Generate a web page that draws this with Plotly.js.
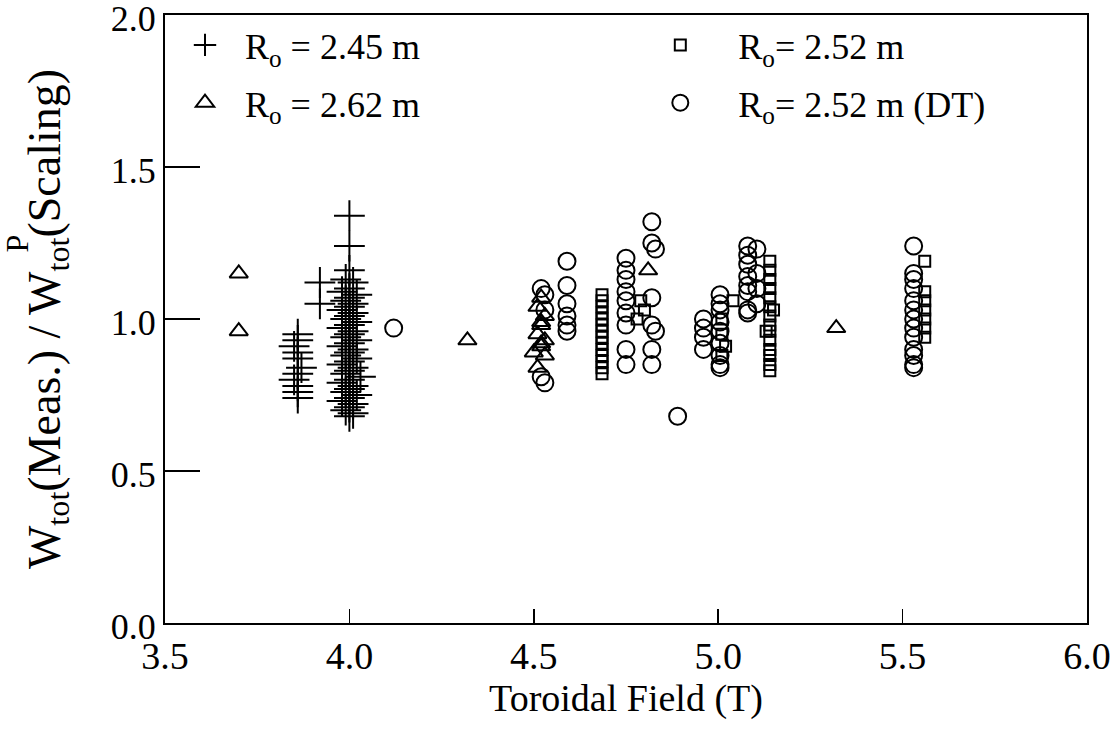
<!DOCTYPE html>
<html>
<head>
<meta charset="utf-8">
<script src="https://cdn.plot.ly/plotly-3.0.1.min.js"></script>
<style>html,body{margin:0;padding:0;background:#fff;}#chart{width:1111px;height:740px;}</style>
</head>
<body>
<div id="chart"></div>
<script>
// R0 = 2.45 m (crosses)
var crossX = [3.92, 3.92,
  3.86, 3.86, 3.85, 3.86, 3.86, 3.87, 3.86, 3.85, 3.86, 3.86, 3.86,
  4.00, 4.00, 4.00,
  3.99, 4.01, 4.00, 3.98, 4.02, 4.00, 3.99, 4.01, 4.00, 3.98, 4.01, 4.00, 3.99, 4.02, 4.00,
  3.98, 4.01, 4.00, 3.99, 4.02, 4.00, 3.98, 4.01, 4.00, 3.99, 4.02, 4.00, 3.98, 4.01, 4.00,
  3.99, 4.03, 4.00, 3.98, 4.01, 4.00, 3.99, 4.02, 4.00, 3.98, 4.01, 4.00, 3.99, 4.01, 4.00];
var crossY = [1.12, 1.05,
  0.95, 0.93, 0.91, 0.89, 0.87, 0.84, 0.82, 0.80, 0.78, 0.76, 0.74,
  1.34, 1.24, 1.16,
  1.13, 1.12, 1.10, 1.09, 1.08, 1.07, 1.06, 1.05, 1.04, 1.03, 1.02, 1.01, 1.00, 0.99, 0.98,
  0.97, 0.96, 0.95, 0.94, 0.93, 0.92, 0.91, 0.90, 0.89, 0.88, 0.87, 0.86, 0.85, 0.84, 0.83,
  0.82, 0.81, 0.80, 0.79, 0.78, 0.77, 0.76, 0.75, 0.74, 0.73, 0.72, 0.71, 0.70, 0.69, 0.68];

// R0 = 2.52 m (squares)
var squareX = [4.685, 4.685, 4.685, 4.685, 4.685, 4.685, 4.685, 4.685, 4.685, 4.685, 4.685, 4.685, 4.685, 4.685,
  4.79, 4.80, 4.78,
  5.04, 5.01, 5.01, 5.02, 5.01,
  5.14, 5.14, 5.14, 5.14, 5.14, 5.14, 5.14, 5.14, 5.14, 5.14, 5.14, 5.14, 5.14, 5.14, 5.15, 5.13,
  5.56, 5.56, 5.56, 5.56, 5.56, 5.56, 5.56];
var squareY = [1.08, 1.06, 1.04, 1.02, 1.00, 0.98, 0.96, 0.94, 0.92, 0.90, 0.88, 0.86, 0.84, 0.82,
  1.06, 1.03, 1.00,
  1.06, 1.00, 0.95, 0.91, 0.88,
  1.19, 1.16, 1.13, 1.10, 1.07, 1.04, 1.01, 0.98, 0.96, 0.93, 0.90, 0.88, 0.85, 0.83, 1.03, 0.96,
  1.19, 1.09, 1.06, 1.03, 1.00, 0.97, 0.94];

// R0 = 2.62 m (triangles)
var triX = [3.70, 3.70, 4.32, 4.52, 4.51, 4.53, 4.52, 4.51, 4.53, 4.52, 4.50, 4.53, 4.51, 4.52, 4.52, 4.81, 5.32];
var triY = [1.15, 0.96, 0.93, 1.07, 1.04, 1.01, 0.98, 0.95, 0.93, 0.91, 0.89, 0.88, 0.84, 0.99, 0.92, 1.16, 0.97];

// R0 = 2.52 m (DT) (circles)
var circX = [4.12,
  4.52, 4.53, 4.53, 4.52, 4.53,
  4.59, 4.59, 4.59, 4.59, 4.59, 4.59,
  4.75, 4.75, 4.75, 4.75, 4.75, 4.75, 4.75, 4.75, 4.75,
  4.82, 4.82, 4.83, 4.82, 4.82, 4.83, 4.82, 4.82,
  4.89,
  4.96, 4.96, 4.96, 4.96,
  5.005, 5.005, 5.005, 5.005, 5.005, 5.005, 5.005, 5.005, 5.005,
  5.08, 5.08, 5.08, 5.08, 5.08, 5.08, 5.08, 5.08,
  5.105, 5.105, 5.105, 5.105,
  5.53, 5.53, 5.53, 5.53, 5.53, 5.53, 5.53, 5.53, 5.53, 5.53, 5.53, 5.53, 5.53];
var circY = [0.97,
  1.10, 1.08, 1.03, 0.81, 0.79,
  1.19, 1.11, 1.05, 1.01, 0.98, 0.96,
  1.20, 1.16, 1.13, 1.09, 1.06, 1.02, 0.98, 0.90, 0.85,
  1.32, 1.25, 1.23, 1.07, 0.98, 0.96, 0.90, 0.85,
  0.68,
  1.00, 0.97, 0.94, 0.90,
  1.08, 1.05, 1.03, 0.99, 0.96, 0.92, 0.88, 0.85, 0.84,
  1.24, 1.21, 1.18, 1.14, 1.11, 1.09, 1.03, 1.02,
  1.23, 1.15, 1.10, 1.05,
  1.24, 1.15, 1.13, 1.10, 1.06, 1.03, 1.00, 0.97, 0.94, 0.90, 0.88, 0.85, 0.84];

var xTicks = [3.5, 4.0, 4.5, 5.0, 5.5, 6.0];
var yTicks = [0.0, 0.5, 1.0, 1.5, 2.0];

var FONT = 'Liberation Serif, Times New Roman, serif';

var traces = [
  {x: crossX, y: crossY, type: 'scatter', mode: 'markers', name: 'R<sub>o</sub> = 2.45 m',
   legend: 'legend', legendgroup: 'a',
   marker: {symbol: 'cross-thin-open', size: 22, color: 'black', line: {color: 'black', width: 2}}},
  {x: triX, y: triY, type: 'scatter', mode: 'markers', name: 'R<sub>o</sub> = 2.62 m',
   legend: 'legend', legendgroup: 'b',
   marker: {symbol: 'triangle-up-open', size: 16, color: 'black', line: {color: 'black', width: 2}}},
  {x: squareX, y: squareY, type: 'scatter', mode: 'markers', name: 'R<sub>o</sub>= 2.52 m',
   legend: 'legend2', legendgroup: 'c',
   marker: {symbol: 'square-open', size: 11, color: 'black', line: {color: 'black', width: 2}}},
  {x: circX, y: circY, type: 'scatter', mode: 'markers', name: 'R<sub>o</sub>= 2.52 m (DT)',
   legend: 'legend2', legendgroup: 'd',
   marker: {symbol: 'circle-open', size: 17, color: 'black', line: {color: 'black', width: 2}}}
];

var legendCommon = {
  font: {family: FONT, size: 36, color: 'black'},
  bgcolor: 'rgba(0,0,0,0)', borderwidth: 0,
  traceorder: 'grouped', tracegroupgap: 8,
  xanchor: 'left', yanchor: 'top', orientation: 'v'
};

var layout = {
  width: 1111, height: 740,
  paper_bgcolor: 'white', plot_bgcolor: 'white',
  margin: {l: 165, r: 24, t: 15, b: 117},
  font: {family: FONT, size: 36, color: 'black'},
  showlegend: true,
  legend: Object.assign({}, legendCommon, {x: 0.0, y: 1.0, itemwidth: 70}),
  legend2: Object.assign({}, legendCommon, {x: 0.496, y: 1.0, itemwidth: 106}),
  xaxis: {
    range: [3.5, 6.0], tickvals: xTicks, tickformat: '.1f',
    ticks: 'inside', ticklen: 14, tickwidth: 1.5, tickcolor: 'black',
    showline: true, mirror: true, linecolor: 'black', linewidth: 2,
    showgrid: false, zeroline: false, ticklabelstandoff: -2,
    tickfont: {family: FONT, size: 38, color: 'black'},
    title: {text: 'Toroidal Field (T)', font: {family: FONT, size: 38, color: 'black'}, standoff: 6}
  },
  yaxis: {
    range: [0, 2.0], tickvals: yTicks, tickformat: '.1f',
    ticks: 'inside', ticklen: 35, tickwidth: 1.5, tickcolor: 'black',
    showline: true, mirror: true, linecolor: 'black', linewidth: 2,
    showgrid: false, zeroline: false, ticklabeloverflow: 'allow', ticklabelshift: 3,
    tickfont: {family: FONT, size: 36, color: 'black'},
    title: {text: 'W<sub>tot</sub>(Meas.) / W<sub>tot</sub>(Scaling)', font: {family: FONT, size: 46, color: 'black'}, standoff: 36}
  },
  annotations: [
    {text: 'P', xref: 'paper', yref: 'paper', x: -0.16, y: 0.625, showarrow: false,
     textangle: -90, font: {family: FONT, size: 32, color: 'black'}, xanchor: 'center', yanchor: 'middle'}
  ]
};

Plotly.newPlot('chart', traces, layout, {staticPlot: true, displayModeBar: false});
</script>
</body>
</html>
